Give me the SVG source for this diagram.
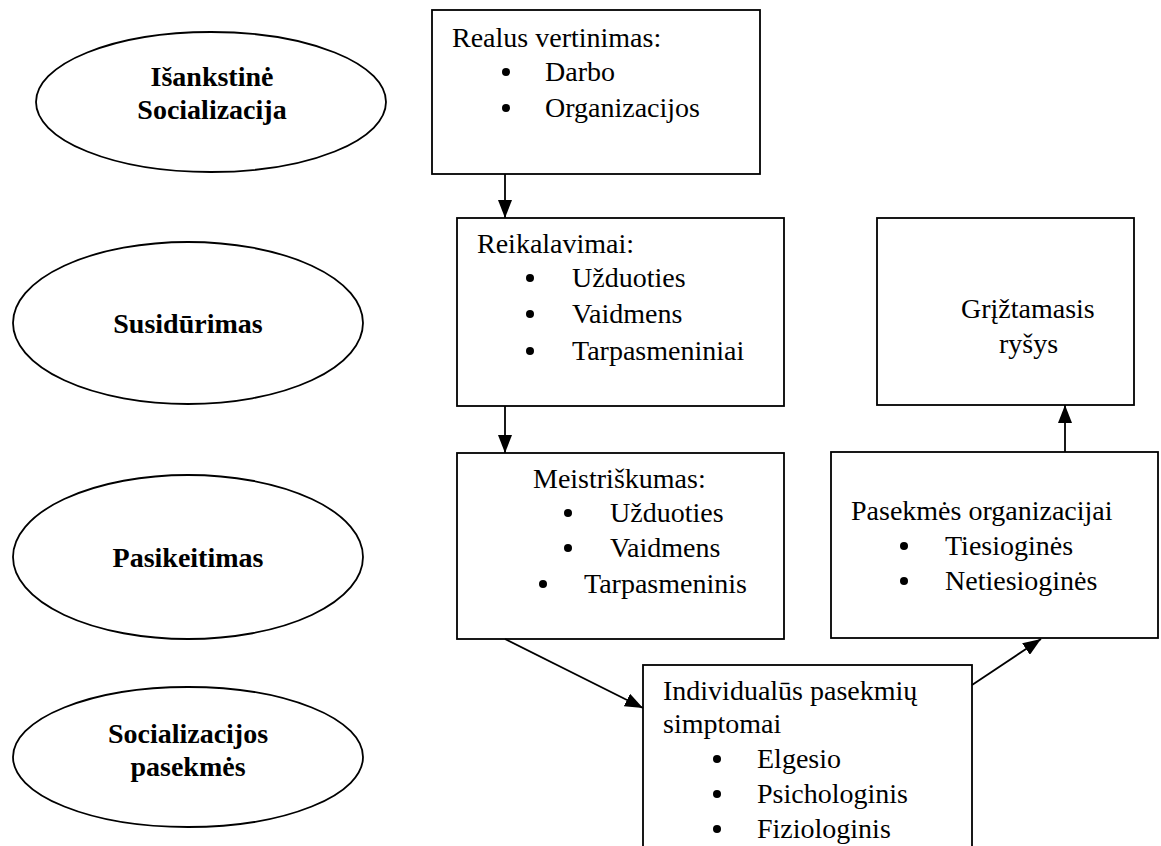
<svg xmlns="http://www.w3.org/2000/svg" width="1161" height="846" viewBox="0 0 1161 846">
<style>
.shape{fill:#fff;stroke:#000;stroke-width:1.8}
.t{font-family:"Liberation Serif","Times New Roman",serif;font-size:28px;fill:#000}
.b{font-weight:bold;text-anchor:middle}
.dot{fill:#000}
.conn{stroke:#000;stroke-width:1.8;fill:none;marker-end:url(#arr)}
</style>
<defs>
<marker id="arr" markerUnits="userSpaceOnUse" markerWidth="18" markerHeight="14" refX="18" refY="7" orient="auto">
<path d="M0,0 L18,7 L0,14 z" fill="#000"/>
</marker>
</defs>
<rect width="1161" height="846" fill="#fff"/>
<g id="ellipse-isankstine">
<ellipse class="shape" cx="211" cy="102" rx="175" ry="70"/>
<text class="t b" x="212" y="86">Išankstinė</text>
<text class="t b" x="212" y="119">Socializacija</text>
</g>
<g id="ellipse-susidurimas">
<ellipse class="shape" cx="188" cy="323" rx="175" ry="81"/>
<text class="t b" x="188" y="333">Susidūrimas</text>
</g>
<g id="ellipse-pasikeitimas">
<ellipse class="shape" cx="188" cy="557" rx="175" ry="82"/>
<text class="t b" x="188" y="567">Pasikeitimas</text>
</g>
<g id="ellipse-pasekmes">
<ellipse class="shape" cx="188" cy="757" rx="175" ry="70"/>
<text class="t b" x="188" y="743">Socializacijos</text>
<text class="t b" x="188" y="776">pasekmės</text>
</g>
<g id="box-realus">
<rect class="shape" x="432" y="10" width="328" height="164"/>
<text class="t" x="452" y="47">Realus vertinimas:</text>
<circle class="dot" cx="506" cy="72" r="4"/>
<text class="t" x="545" y="81">Darbo</text>
<circle class="dot" cx="506" cy="108" r="4"/>
<text class="t" x="545" y="117">Organizacijos</text>
</g>
<g id="box-reikalavimai">
<rect class="shape" x="457" y="218" width="327" height="188"/>
<text class="t" x="477" y="253">Reikalavimai:</text>
<circle class="dot" cx="530" cy="278" r="4"/>
<text class="t" x="572" y="287">Užduoties</text>
<circle class="dot" cx="530" cy="314" r="4"/>
<text class="t" x="572" y="323">Vaidmens</text>
<circle class="dot" cx="530" cy="351" r="4"/>
<text class="t" x="572" y="360">Tarpasmeniniai</text>
</g>
<g id="box-meistriskumas">
<rect class="shape" x="457" y="453" width="327" height="186"/>
<text class="t" x="533" y="488">Meistriškumas:</text>
<circle class="dot" cx="568" cy="513" r="4"/>
<text class="t" x="610" y="522">Užduoties</text>
<circle class="dot" cx="568" cy="548" r="4"/>
<text class="t" x="610" y="557">Vaidmens</text>
<circle class="dot" cx="543" cy="584" r="4"/>
<text class="t" x="584" y="593">Tarpasmeninis</text>
</g>
<g id="box-individualus">
<rect class="shape" x="643" y="665" width="329" height="220"/>
<text class="t" x="663" y="700">Individualūs pasekmių</text>
<text class="t" x="663" y="733">simptomai</text>
<circle class="dot" cx="717" cy="759" r="4"/>
<text class="t" x="757" y="768">Elgesio</text>
<circle class="dot" cx="717" cy="794" r="4"/>
<text class="t" x="757" y="803">Psichologinis</text>
<circle class="dot" cx="717" cy="829" r="4"/>
<text class="t" x="757" y="838">Fiziologinis</text>
</g>
<g id="box-griztamasis">
<rect class="shape" x="877" y="218" width="257" height="187"/>
<text class="t" x="961" y="318">Grįžtamasis</text>
<text class="t" x="999" y="353">ryšys</text>
</g>
<g id="box-organizacijai">
<rect class="shape" x="831" y="452" width="327" height="186"/>
<text class="t" x="851" y="520">Pasekmės organizacijai</text>
<circle class="dot" cx="904" cy="546" r="4"/>
<text class="t" x="945" y="555">Tiesioginės</text>
<circle class="dot" cx="904" cy="581" r="4"/>
<text class="t" x="945" y="590">Netiesioginės</text>
</g>
<g id="connectors">
<line class="conn" x1="505" y1="174" x2="505" y2="218"/>
<line class="conn" x1="505" y1="406" x2="505" y2="453"/>
<line class="conn" x1="505" y1="639" x2="643" y2="708"/>
<line class="conn" x1="972" y1="685" x2="1041" y2="639"/>
<line class="conn" x1="1065" y1="452" x2="1065" y2="405"/>
</g>
</svg>
